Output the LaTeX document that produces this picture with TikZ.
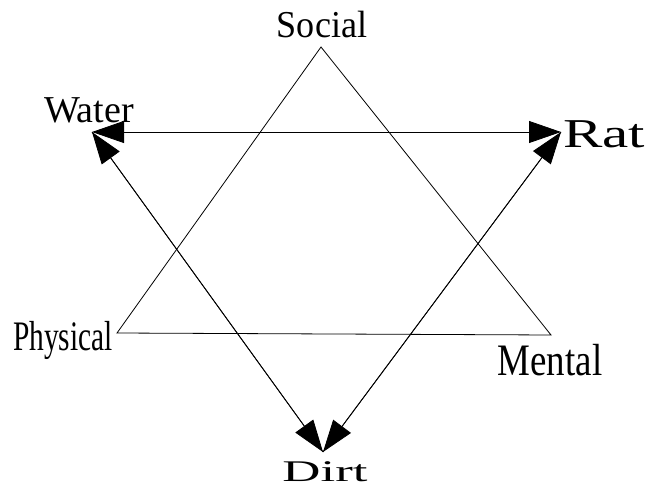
\documentclass[tikz,border=0pt]{standalone}
\usepackage{fontspec}
\setmainfont{Liberation Serif}
\usetikzlibrary{arrows.meta}
\tikzset{
  edge/.style={line width=0.8pt, black},
  arr/.style={edge, {Triangle[length=32pt,width=22pt]}-{Triangle[length=32pt,width=22pt]}},
  tip/.style={edge, -{Triangle[length=32pt,width=22pt]}},
  lbl/.style={inner sep=0pt, anchor=base}
}
\begin{document}
\begin{tikzpicture}[x=1pt,y=-1pt]
\useasboundingbox (0,0) rectangle (649,487);
% triangle corners
\coordinate (S) at (321,47);
\coordinate (P) at (117,333);
\coordinate (M) at (551,335);
\draw[edge, line join=miter] (S) -- (P) -- (M) -- cycle;
% arrow triangle
\coordinate (W) at (92,132);
\coordinate (R) at (561,132);
\coordinate (D) at (323,452);
\draw[arr] (W) -- (R);
\draw[tip] (D) -- (W);
\draw[tip] (W) -- (D);
\draw[tip] (D) -- (R);
\draw[tip] (R) -- (D);
% labels
\node[lbl] (social) at (322,38) {\scalebox{0.95}[1]{\fontsize{38}{38}\selectfont Social}};
\node[lbl] (water) at (89,123) {\fontsize{38}{38}\selectfont Water};
\node[lbl] (rat) at (604,147) {\scalebox{1.44}[1]{\fontsize{41}{41}\selectfont Rat}};
\node[lbl] (physical) at (63,350) {\scalebox{0.7}[1]{\fontsize{42}{42}\selectfont Physical}};
\node[lbl] (mental) at (550,375) {\scalebox{0.82}[1]{\fontsize{45}{45}\selectfont Mental}};
\node[lbl] (dirt) at (325,481) {\scalebox{1.76}[1]{\fontsize{30}{30}\selectfont Dirt}};
\end{tikzpicture}
\end{document}
